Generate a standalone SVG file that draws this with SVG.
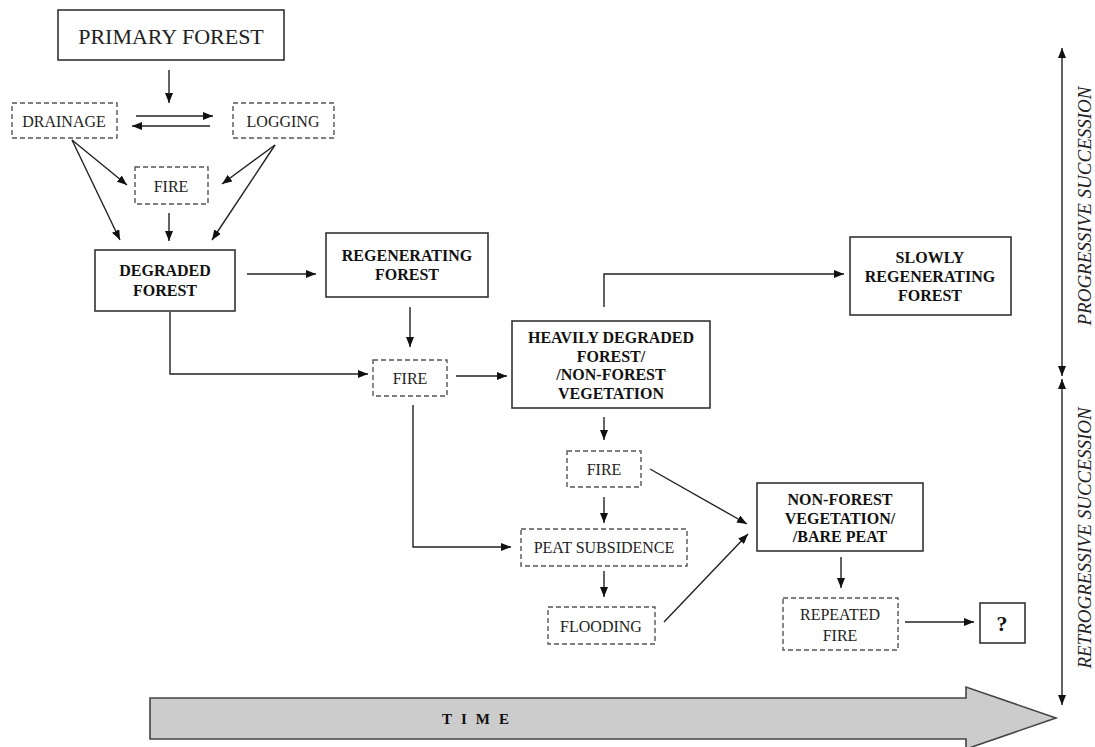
<svg xmlns="http://www.w3.org/2000/svg" width="1095" height="747" viewBox="0 0 1095 747">
<defs>
<marker id="ah" viewBox="0 0 10 8" refX="10" refY="4" markerWidth="10" markerHeight="8" markerUnits="userSpaceOnUse" orient="auto-start-reverse">
<path d="M0,0 L10,4 L0,8 z" fill="#111"/>
</marker>
<style>
.box{fill:#fff;stroke:#333;stroke-width:1.6}
.dbox{fill:#fff;stroke:#555;stroke-width:1.4;stroke-dasharray:5,3}
.t{font-family:"Liberation Serif","Times New Roman",serif;font-size:16px;fill:#222;text-anchor:middle}
.b{font-family:"Liberation Serif","Times New Roman",serif;font-size:16px;font-weight:bold;fill:#111;text-anchor:middle}
.c{fill:none;stroke:#222;stroke-width:1.4;marker-end:url(#ah)}
.side{font-family:"Liberation Serif","Times New Roman",serif;font-size:19px;font-style:italic;fill:#222;text-anchor:middle}
</style>
</defs>
<rect width="1095" height="747" fill="#fff"/>

<g id="connectors">
<line class="c" x1="169" y1="70" x2="169" y2="103"/>
<line class="c" x1="136" y1="116" x2="213" y2="116"/>
<line class="c" x1="210" y1="126" x2="132" y2="126"/>
<line class="c" x1="72" y1="140" x2="127" y2="185"/>
<line class="c" x1="72" y1="140" x2="120" y2="240"/>
<line class="c" x1="275" y1="145" x2="222" y2="184"/>
<line class="c" x1="275" y1="145" x2="212" y2="240"/>
<line class="c" x1="169" y1="213" x2="169" y2="241"/>
<line class="c" x1="247" y1="274" x2="316" y2="274"/>
<line class="c" x1="410" y1="307" x2="410" y2="347"/>
<path class="c" d="M170,312 V374 H368"/>
<line class="c" x1="456" y1="376" x2="507" y2="376"/>
<path class="c" d="M604,307 V274 H844"/>
<path class="c" d="M413,405 V547 H511"/>
<line class="c" x1="604" y1="417" x2="604" y2="440"/>
<line class="c" x1="650" y1="469" x2="747" y2="524"/>
<line class="c" x1="604" y1="497" x2="604" y2="523"/>
<line class="c" x1="604" y1="571" x2="604" y2="597"/>
<line class="c" x1="664" y1="622" x2="748" y2="534"/>
<line class="c" x1="841" y1="557" x2="841" y2="588"/>
<line class="c" x1="905" y1="622" x2="974" y2="622"/>
<line class="c" style="marker-start:url(#ah)" x1="1062" y1="376" x2="1062" y2="48"/>
<line class="c" style="marker-start:url(#ah)" x1="1062" y1="379" x2="1062" y2="705"/>
</g>

<g id="primary-forest"><rect class="box" x="58" y="10" width="226" height="50"/><text class="t" style="font-size:22px" x="171" y="44">PRIMARY FOREST</text></g>
<g id="drainage"><rect class="dbox" x="12" y="103" width="105" height="35"/><text class="t" x="64" y="127">DRAINAGE</text></g>
<g id="logging"><rect class="dbox" x="233" y="103" width="101" height="35"/><text class="t" x="283" y="127">LOGGING</text></g>
<g id="fire1"><rect class="dbox" x="135" y="167" width="73" height="37"/><text class="t" x="171" y="192">FIRE</text></g>
<g id="degraded-forest"><rect class="box" x="95" y="250" width="140" height="61"/><text class="b" x="165" y="276">DEGRADED</text><text class="b" x="165" y="296">FOREST</text></g>
<g id="regenerating-forest"><rect class="box" x="326" y="233" width="162" height="64"/><text class="b" x="407" y="261">REGENERATING</text><text class="b" x="407" y="280">FOREST</text></g>
<g id="fire2"><rect class="dbox" x="373" y="360" width="74" height="36"/><text class="t" x="410" y="384">FIRE</text></g>
<g id="heavily-degraded"><rect class="box" x="512" y="321" width="198" height="87"/><text class="b" x="611" y="343">HEAVILY DEGRADED</text><text class="b" x="611" y="362">FOREST/</text><text class="b" x="611" y="380">/NON-FOREST</text><text class="b" x="611" y="399">VEGETATION</text></g>
<g id="slowly-regenerating"><rect class="box" x="850" y="237" width="161" height="78"/><text class="b" x="930" y="263">SLOWLY</text><text class="b" x="930" y="282">REGENERATING</text><text class="b" x="930" y="301">FOREST</text></g>
<g id="fire3"><rect class="dbox" x="567" y="451" width="74" height="36"/><text class="t" x="604" y="475">FIRE</text></g>
<g id="peat-subsidence"><rect class="dbox" x="521" y="529" width="166" height="37"/><text class="t" x="604" y="553">PEAT SUBSIDENCE</text></g>
<g id="flooding"><rect class="dbox" x="548" y="607" width="107" height="37"/><text class="t" x="601" y="632">FLOODING</text></g>
<g id="non-forest"><rect class="box" x="757" y="483" width="166" height="68"/><text class="b" x="840" y="505">NON-FOREST</text><text class="b" x="840" y="524">VEGETATION/</text><text class="b" x="840" y="542">/BARE PEAT</text></g>
<g id="repeated-fire"><rect class="dbox" x="783" y="598" width="115" height="52"/><text class="t" x="840" y="620">REPEATED</text><text class="t" x="840" y="641">FIRE</text></g>
<g id="unknown"><rect class="box" x="980" y="603" width="45" height="40"/><text class="b" style="font-size:22px" x="1002" y="631">?</text></g>

<g id="time-arrow">
<polygon points="150,698 966,698 966,687 1056,718 966,749 966,739 150,739" fill="#cccccc" stroke="#444" stroke-width="1.6"/>
<text class="b" style="font-size:15px;letter-spacing:9px" x="480" y="724">TIME</text>
</g>

<g id="side-labels">
<text class="side" transform="translate(1091,206) rotate(-90)">PROGRESSIVE  SUCCESSION</text>
<text class="side" transform="translate(1091,538) rotate(-90)">RETROGRESSIVE  SUCCESSION</text>
</g>
</svg>
